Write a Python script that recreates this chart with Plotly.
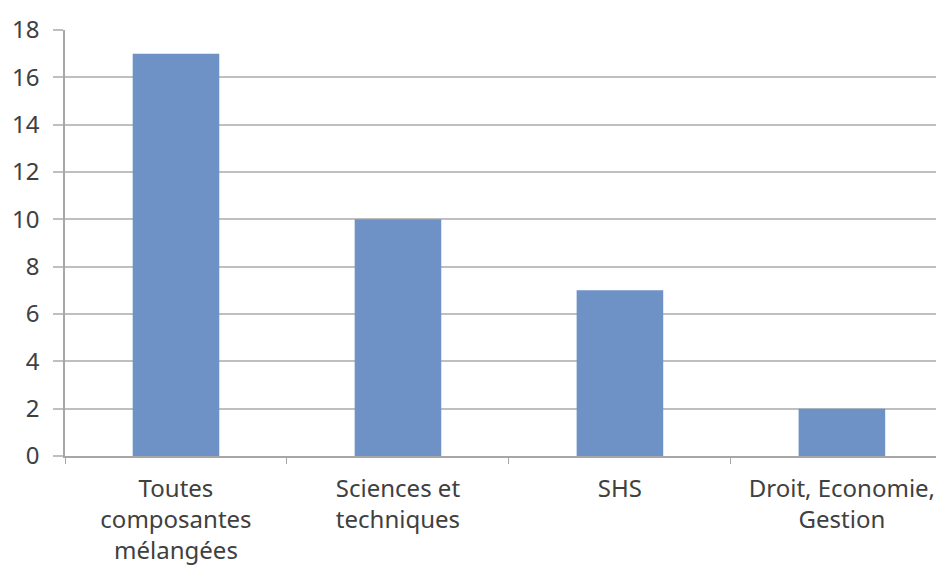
import plotly.graph_objects as go

categories = ["Toutes<br>composantes<br>mélangées", "Sciences et<br>techniques", "SHS", "Droit, Economie,<br>Gestion"]
values = [17, 10, 7, 2]
y_ticks = [0, 2, 4, 6, 8, 10, 12, 14, 16, 18]

fig = go.Figure(go.Bar(x=categories, y=values, marker=dict(color="#6E92C6", line=dict(width=0)), width=0.39))

fig.update_layout(
    width=936, height=563,
    margin=dict(l=57, r=0, t=22, b=115),
    paper_bgcolor="white", plot_bgcolor="white",
    showlegend=False,
    font=dict(family="Noto Sans", size=24, color="#404040"),
)
fig.update_xaxes(
    range=[-0.5, 3.46], showline=True, linecolor="#a6a6a6", linewidth=1.5,
    ticks="outside", tickson="boundaries", ticklen=6, tickcolor="#a6a6a6",
    showgrid=False, tickfont=dict(size=24, color="#404040"), fixedrange=True,
    ticklabelstandoff=10,
)
fig.update_yaxes(
    range=[0, 18], tickvals=y_ticks, showline=True, linecolor="#a6a6a6", linewidth=1.5,
    ticks="outside", ticklen=10, tickcolor="#bfbfbf", tickwidth=1.5,
    showgrid=True, gridcolor="#bfbfbf", gridwidth=1.5, zeroline=False,
    tickfont=dict(size=24, color="#404040"), ticklabelstandoff=9,
)

fig.write_html("out.html")
